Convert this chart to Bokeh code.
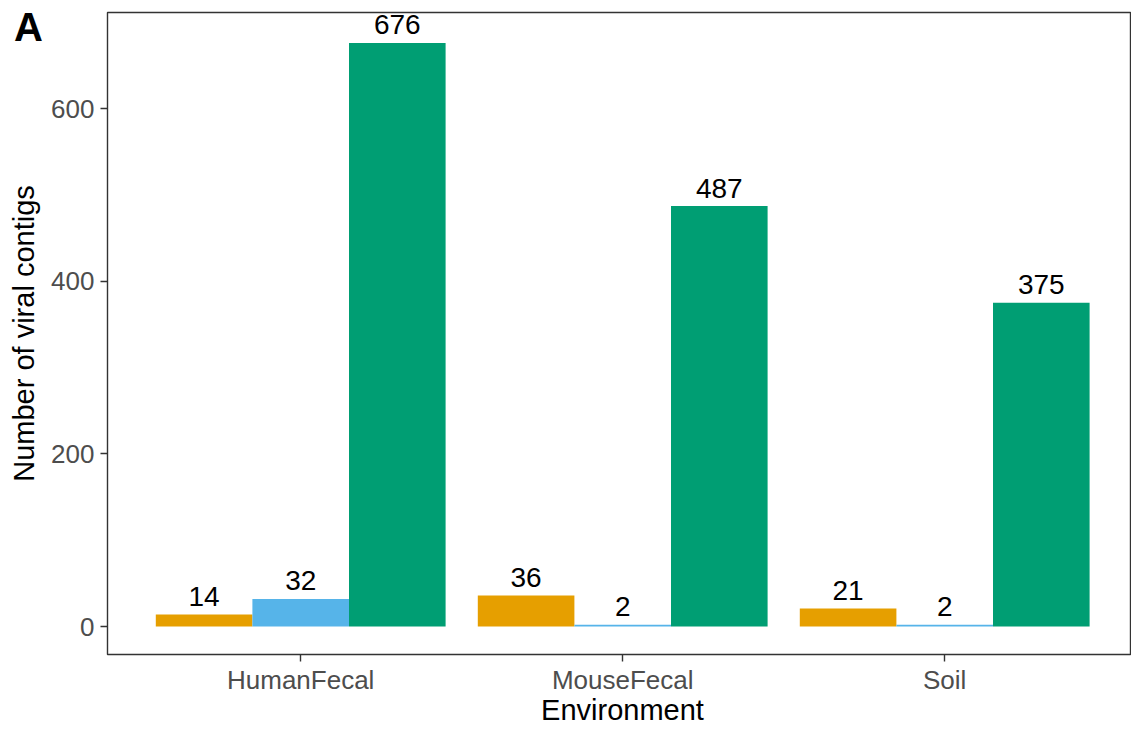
from bokeh.plotting import figure
from bokeh.models import FixedTicker, Range1d, Label, ColumnDataSource, Div, GridBox
from bokeh.core.properties import value
from bokeh.embed import file_html
from bokeh.resources import INLINE

# ---- data ----
environments = ["HumanFecal", "MouseFecal", "Soil"]
orange_counts = [14, 36, 21]
blue_counts = [32, 2, 2]
green_counts = [676, 487, 375]
series_colors = ["#E69F00", "#56B4E9", "#009E73"]
y_ticks = [0, 200, 400, 600]
panel_tag = "A"

FONT = "Liberation Sans"

p = figure(width=1131, height=729, output_backend="svg", toolbar_location=None,
           x_range=Range1d(0.4, 0.4 + 1023 / 322), y_range=Range1d(-32.4, 711.2),
           min_border_left=107, min_border_right=1, min_border_top=12, min_border_bottom=75)

bar_w = 0.3
offsets = [-0.3, 0.0, 0.3]
all_series = [orange_counts, blue_counts, green_counts]
for vals, col, off in zip(all_series, series_colors, offsets):
    xs = [i + 1 + off for i in range(len(environments))]
    src = ColumnDataSource(dict(x=xs, top=vals, lab=[str(v) for v in vals]))
    p.vbar(x="x", top="top", bottom=0, width=bar_w, source=src,
           fill_color=col, line_color=None)
    p.text(x="x", y="top", text="lab", source=src, text_align="center",
           text_baseline="alphabetic", y_offset=-18, text_font=value(FONT),
           text_font_size=value("28px"), text_color="black")

p.xgrid.visible = False
p.ygrid.visible = False
p.background_fill_color = "white"
p.border_fill_color = "white"
p.outline_line_color = "#333333"
p.outline_line_width = 1.4

for ax in (p.xaxis[0], p.yaxis[0]):
    ax.axis_line_color = None
    ax.major_tick_line_color = "#333333"
    ax.major_tick_line_width = 1.4
    ax.major_tick_out = 7
    ax.major_tick_in = 0
    ax.minor_tick_line_color = None
    ax.major_label_text_font = FONT
    ax.major_label_text_font_size = "26px"
    ax.major_label_text_color = "#4D4D4D"
    ax.axis_label_text_font = FONT
    ax.axis_label_text_font_size = "29px"
    ax.axis_label_text_font_style = "normal"
    ax.axis_label_text_color = "black"

p.xaxis.ticker = FixedTicker(ticks=[1, 2, 3])
p.xaxis.major_label_overrides = {i + 1: e for i, e in enumerate(environments)}
p.xaxis.major_label_standoff = 3

p.yaxis.ticker = FixedTicker(ticks=y_ticks)
p.yaxis.axis_label = "Number of viral contigs"
p.yaxis.major_label_standoff = 6
p.yaxis.axis_label_standoff = 8

p.add_layout(Label(x=622, y=709, x_units="canvas", y_units="canvas", text="Environment",
                   text_font=FONT, text_font_size="29px", text_color="black",
                   text_align="center", text_baseline="alphabetic"), "below")

tag = Div(text=panel_tag, styles={"padding": "0px 0px 0px 9px", "font-size": "40px",
                                  "font-weight": "bold", "font-family": FONT,
                                  "color": "black", "line-height": "normal",
                                  "pointer-events": "none", "z-index": "5"})
layout = GridBox(children=[(p, 0, 0), (tag, 0, 0)])

open("out.html", "w").write(file_html(layout, INLINE))
